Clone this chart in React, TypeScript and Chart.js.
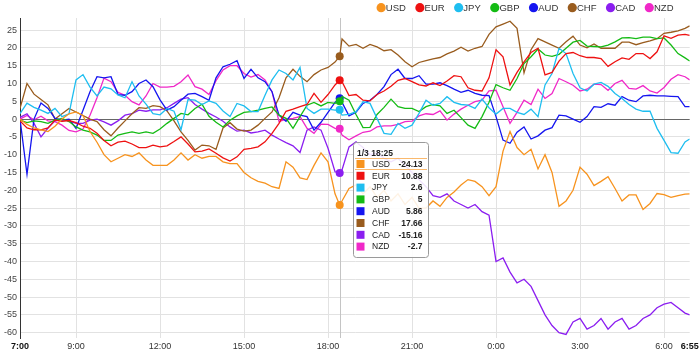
import React, { useEffect, useRef } from "react";
import { Chart, registerables } from "chart.js";

Chart.register(...registerables);

const FONT = "'Liberation Sans', Arial, Helvetica, sans-serif";

const CURRENCIES = ["USD", "EUR", "JPY", "GBP", "AUD", "CHF", "CAD", "NZD"];
const COLORS = ["#F7931E", "#EE1111", "#1EBEF0", "#14BB14", "#1515F0", "#995C1E", "#8B1EF0", "#F028C8"];

const TIMES = [
  "7:00", "7:15", "7:30", "7:45", "8:00", "8:15", "8:30", "8:45",
  "9:00", "9:15", "9:30", "9:45", "10:00", "10:15", "10:30", "10:45",
  "11:00", "11:15", "11:30", "11:45", "12:00", "12:15", "12:30", "12:45",
  "13:00", "13:15", "13:30", "13:45", "14:00", "14:15", "14:30", "14:45",
  "15:00", "15:15", "15:30", "15:45", "16:00", "16:15", "16:30", "16:45",
  "17:00", "17:15", "17:30", "17:45", "18:00", "18:15", "18:25", "18:30", "18:45",
  "19:00", "19:15", "19:30", "19:45", "20:00", "20:15", "20:30", "20:45",
  "21:00", "21:15", "21:30", "21:45", "22:00", "22:15", "22:30", "22:45",
  "23:00", "23:15", "23:30", "23:45", "0:00", "0:15", "0:30", "0:45",
  "1:00", "1:15", "1:30", "1:45", "2:00", "2:15", "2:30", "2:45",
  "3:00", "3:15", "3:30", "3:45", "4:00", "4:15", "4:30", "4:45",
  "5:00", "5:15", "5:30", "5:45", "6:00", "6:15", "6:30", "6:45", "6:55",
];

const USD = [
  0, -1.5, -2.5, -3, -3.5, -2, 0, 1.5,
  2, 1, -3.5, -6.5, -10, -12, -11, -10,
  -10.5, -9.5, -11.5, -13, -13, -13, -11.5, -9.5,
  -11.5, -10, -11, -10.5, -10.5, -12, -12.5, -12.5,
  -15, -16.5, -17.5, -18, -19, -19.5, -12, -13.5,
  -16.5, -17, -13, -9.5, -12, -21, -24.13, -23, -19.5,
  -18.5, -21, -19, -22, -20, -23, -21, -24,
  -22, -25, -25, -23, -24.5, -22, -20.5, -18.5,
  -17, -17.5, -19, -21.5, -19, -9, -3.5, -8,
  -10, -8.5, -14, -10, -15, -24.5, -23, -20,
  -13.5, -15.5, -18.7, -17.5, -16.2, -19.5, -23, -21.3,
  -21.3, -25.4, -23.7, -20.9, -21.2, -22, -21.5, -21.1, -21,
];
const EUR = [
  -0.5, -2.5, -3, -3, -2.5, -0.3, -0.6, -0.4,
  -1, -2, -2.6, -4, -6, -7.5, -6.5, -6.2,
  -7, -8, -8, -7.3, -7.8, -7.5, -6.3, -5,
  -7, -9.2, -9, -8.4, -9.6, -10.9, -11.8, -10.6,
  -8.5, -8.2, -7.8, -6.4, -4, -1.2, 2.2, 2.8,
  3.5, 4.1, 7.2, 4.7, 6.9, 9.6, 10.88, 10.5, 6.6,
  6.9, 5.3, 5.1, 6.9, 7.9, 9.2, 10.9, 11.4,
  10.5, 9.6, 9.3, 10.2, 9.4, 10.7, 12.2, 11.9,
  8.8, 8.1, 7.9, 11.6, 19.5, 17.5, 9.6, 13.1,
  16.1, 18.7, 19.9, 12.4, 13.1, 16.3, 18.4, 18.7,
  17.8, 17.3, 17.3, 17, 14.8, 16.1, 17.2, 16.8,
  18.4, 18.4, 17, 18.9, 23.4, 22.7, 23.6, 23.8, 23.5,
];
const JPY = [
  1.5, 4.5, 3.3, 2.5, 1.6, 3, 0.7, 1.5,
  11, 12.5, 9, 6.5, 9, 8.5, 6.8, 6,
  10.5, 6.5, 4.2, 1.5, 1.2, 3, 2.2, -3,
  5.5, 5.3, 4.1, 5.1, 4.4, 2.3, 0.7, 4.4,
  3.7, 2.1, 2.1, 6.7, 11, 13.8, 12.8, 11,
  14.5, 3, 1.6, 2.8, 2.8, 2.5, 2.6, 1.1, 1.3,
  2.1, 4.9, 4.4, 0.2, -4, -4.3, -1.2, -2.6,
  -1.7, 1.6, 5.3, 3.9, 4.4, 6.3, 4.7, 4.1,
  3.9, 3, 5.6, 3.2, 1.4, 3, 3, 1.9,
  1.3, 2.8, 0.7, 9.6, 12.8, 19.9, 18.4, 12.8,
  8.8, 7.9, 9.8, 10.3, 9.2, 7.2, 5.8, 4.1,
  2.8, 2.2, 2.2, -2.6, -6, -9.4, -9.6, -6.4, -5.6,
];
const GBP = [
  -0.3, -1, -0.5, -0.7, -1.2, -0.3, 0.2, -0.7,
  -2.2, -3.1, -3.6, -4.5, -6, -6, -4.5, -4,
  -3.6, -4, -3.6, -4, -2.8, -1.2, 0.2, 1.6,
  1.2, 3, 4.2, 0.8, -0.9, -2.2, -0.3, 0.9,
  1.9, 2.1, 2.5, 3, 3.4, 1.1, 0.2, -2.6,
  0.7, 3.9, 4.7, 3.7, 4.7, 4.4, 5, 6.4, 5.3,
  1.3, -2.4, -2.3, 1.3, 3.3, 5.6, 3.5, 3,
  3, 2.1, 3.5, 4.1, 3.7, 1.6, 2.5, 0.4,
  -1.7, -2.6, 0.7, 4.7, 9.7, 8.8, 8.1, 11.4,
  15.6, 17.5, 19.7, 18, 17.6, 18.2, 19.9, 21.6,
  22.1, 20.5, 20.4, 20.3, 20.8, 21.7, 22.8, 22.9,
  22.6, 23, 23, 22.6, 22.8, 20.8, 18.4, 17.2, 16.3,
];
const AUD = [
  0, -15.5, 0, 4.5, 3, 0.2, -0.3, 0,
  -2.6, 2.5, 7.7, 11.9, 11.6, 11.9, 6.9, 6.7,
  7.7, 10, 11, 9.1, 5.4, 2.5, 3.5, 5.3,
  7, 7.2, 6.3, 5.3, 11.6, 14.7, 15.4, 16.4,
  11.4, 14, 11.6, 10.5, 7.7, 1.1, -0.6, 1.9,
  1.1, 0.7, -3.1, -0.9, 1.9, 4.7, 5.86, 4.7, 0.9,
  1.9, 4.4, 5.3, 6.9, 9.1, 12.5, 14, 11.4,
  11.4, 12.2, 9.8, 9.8, 10.2, 9.4, 8.4, 7.5,
  8.1, 7.2, 6.7, 6.6, 0.7, -5.9, -6.8, -3.7,
  -2.2, -5.6, -4.7, -3.1, -2.4, 1.1, 0.9, 0,
  -0.9, 0.7, 3.5, 3.3, 4.3, 3.9, 6.3, 5.3,
  4.9, 6.5, 6.7, 6.5, 6.5, 6.4, 6.3, 3.5, 3.5,
];
const CHF = [
  3, 10, 7, 5.5, 4, 0, 1.5, 3,
  2, 1, 0, -0.7, -3, -4.7, -2.5, -0.5,
  1.5, 3.2, 3, 3.8, 3.5, 2.3, -0.5, -3.6,
  -6, -8.7, -7.3, -7.5, -8.5, -2.5, -1, -2.8,
  -3.4, -3.1, -1.7, 0.2, 2, 6, 11.6, 14,
  12, 10.5, 12.5, 13.8, 14.5, 16, 17.66, 22.5, 20.5,
  21, 19.9, 21, 20.3, 19.2, 19.5, 18, 16.1,
  14.7, 15.9, 16.4, 16.9, 17.3, 18.3, 19.1, 20.2,
  19.1, 19.9, 20.4, 23.8, 25.9, 26.7, 27.5, 25.5,
  13, 19.5, 22.6, 21.7, 20.8, 19.9, 21.7, 23.3,
  20.8, 20, 21.1, 19.9, 19.9, 19.9, 21.6, 21.6,
  20.9, 21.5, 22, 22.6, 24.1, 24.4, 24.8, 25.5, 26.2,
];
const CAD = [
  0.5, 1.5, -1.2, -5, -2.5, -0.5, 0, -0.5,
  -1.2, -1.2, -0.3, 0, -0.8, -1.7, -0.5, 1.1,
  1.5, 2.5, 2.2, 2.6, 2.6, 3.2, 4.4, 5.6,
  6, 4.1, 2.8, 1.6, 0.6, -0.6, -2.2, -3.4,
  -3.1, -3.9, -3.6, -3.1, -4.5, -5.6, -6.6, -7.5,
  -9.4, -3.1, -2.2, -3.1, -8.2, -14.8, -15.16, -14.3, -7.8,
  -6.4, -8, -10, -9.5, -11, -12, -11, -13,
  -15, -17, -19, -21.5, -22, -21, -23, -24,
  -25, -24, -26, -27, -40, -39, -43, -46,
  -45, -47, -51, -55, -58, -60, -60.5, -57,
  -56, -59, -58, -56, -59, -57, -56, -59,
  -58, -56, -55, -53, -52, -51.5, -53, -54.5, -55,
];
const NZD = [
  0, 1, -0.2, 0.8, -0.5, -0.7, -1.7, -3.2,
  -3.6, -2.8, 1.1, 6, 11.5, 10.5, 7.5, 6.7,
  4.9, 4, 6.5, 10, 9, 9, 9.2, 10.5,
  12.4, 9.1, 8.4, 6.9, 10.8, 13.8, 15, 15,
  12.8, 11.8, 12.5, 11, 7.7, -0.7, 0, 0.2,
  0.7, -2.6, -4, -1.4, -1.5, -2.6, -2.7, -4.5, -5.8,
  -4.7, -3.7, -3.4, -2.2, -1.9, -1.9, -1.5, -0.7,
  -0.6, 0.9, 1.5, 1.3, 2.3, -0.3, 1.4, 2.8,
  3.9, 4.9, 5.3, 7.9, 8.1, 3.5, -1.2, 1.9,
  5.3, 4.1, 8.4, 5.8, 7.2, 11.4, 10.5, 9.5,
  7.9, 8.4, 9.8, 9.7, 8.1, 10, 10.9, 8.6,
  8.4, 9.4, 7.9, 7.3, 8.9, 11.2, 12.5, 11.9, 11,
];

const SERIES = [USD, EUR, JPY, GBP, AUD, CHF, CAD, NZD];

const X_TICKS = ["7:00", "9:00", "12:00", "15:00", "18:00", "21:00", "0:00", "3:00", "6:00", "6:55"];
const Y_TICKS = [25, 20, 15, 10, 5, 0, -5, -10, -15, -20, -25, -30, -35, -40, -45, -50, -55, -60];
const Y_MIN = -61.5;
const Y_MAX = 28.4;
const START_TIME = "7:00";
const HOVER_DATE = "1/3";
const HOVER_TIME = "18:25";
const HIGHLIGHT = "USD";

function toMinutes(t: string): number {
  const [h, m] = t.split(":").map(Number);
  const [h0, m0] = START_TIME.split(":").map(Number);
  return (((h * 60 + m) - (h0 * 60 + m0)) % 1440 + 1440) % 1440;
}

const HOVER_INDEX = TIMES.indexOf(HOVER_TIME);

const legendPlugin = {
  id: "fxLegend",
  afterDraw(chart: any) {
    const ctx = chart.ctx as CanvasRenderingContext2D;
    ctx.save();
    ctx.font = `9.5px ${FONT}`;
    ctx.textBaseline = "middle";
    ctx.textAlign = "left";
    const r = 4.6;
    const textGap = 4.7;
    const itemGap = 14;
    const right = 673.5;
    const cy = 7.7;
    const widths = chart.data.datasets.map((d: any) => ctx.measureText(d.label).width);
    const total = widths.reduce((a: number, w: number) => a + w, 0) + widths.length * textGap + (widths.length - 1) * itemGap;
    let x = right - total;
    chart.data.datasets.forEach((d: any, k: number) => {
      ctx.beginPath();
      ctx.arc(x, cy, r, 0, Math.PI * 2);
      ctx.fillStyle = d.borderColor;
      ctx.fill();
      ctx.fillStyle = "#333";
      ctx.fillText(d.label, x + textGap, cy + 0.5);
      x += textGap + widths[k] + itemGap;
    });
    ctx.restore();
  },
};

const crosshairPlugin = {
  id: "fxCrosshair",
  beforeDatasetsDraw(chart: any) {
    const { ctx, chartArea, scales } = chart;
    const x = Math.round(scales.x.getPixelForValue(toMinutes(HOVER_TIME))) + 0.5;
    ctx.save();
    ctx.strokeStyle = "#c4c4c4";
    ctx.lineWidth = 1;
    ctx.beginPath();
    ctx.moveTo(x, chartArea.top);
    ctx.lineTo(x, chartArea.bottom);
    ctx.stroke();
    ctx.restore();
  },
};

function roundRect(ctx: CanvasRenderingContext2D, x: number, y: number, w: number, h: number, r: number) {
  ctx.beginPath();
  ctx.moveTo(x + r, y);
  ctx.lineTo(x + w - r, y);
  ctx.arcTo(x + w, y, x + w, y + r, r);
  ctx.lineTo(x + w, y + h - r);
  ctx.arcTo(x + w, y + h, x + w - r, y + h, r);
  ctx.lineTo(x + r, y + h);
  ctx.arcTo(x, y + h, x, y + h - r, r);
  ctx.lineTo(x, y + r);
  ctx.arcTo(x, y, x + r, y, r);
  ctx.closePath();
}

const tooltipPlugin = {
  id: "fxTooltip",
  afterDraw(chart: any) {
    const ctx = chart.ctx as CanvasRenderingContext2D;
    const bx = 353.5, by = 142.5, bw = 75, bh = 115;
    ctx.save();
    roundRect(ctx, bx, by, bw, bh, 3);
    ctx.fillStyle = "rgba(255,255,255,0.88)";
    ctx.fill();
    ctx.strokeStyle = "#9a9a9a";
    ctx.lineWidth = 1;
    ctx.stroke();

    ctx.textBaseline = "middle";
    ctx.fillStyle = "#222";
    ctx.font = `bold 8.5px ${FONT}`;
    ctx.textAlign = "left";
    ctx.fillText(`${HOVER_DATE} ${HOVER_TIME}`, bx + 3.5, by + 11.5);

    const rowH = 11.8;
    const row0 = by + 21.5;
    chart.data.datasets.forEach((d: any, k: number) => {
      const cy = row0 + k * rowH;
      if (d.label === HIGHLIGHT) {
        ctx.strokeStyle = "rgba(247,147,30,0.65)";
        ctx.lineWidth = 1;
        ctx.beginPath();
        ctx.moveTo(bx + 1.5, Math.round(cy - 5.8) + 0.5);
        ctx.lineTo(bx + bw - 1.5, Math.round(cy - 5.8) + 0.5);
        ctx.moveTo(bx + 1.5, Math.round(cy + 5.3) + 0.5);
        ctx.lineTo(bx + bw - 1.5, Math.round(cy + 5.3) + 0.5);
        ctx.stroke();
      }
      ctx.fillStyle = d.borderColor;
      ctx.fillRect(bx + 3, cy - 4, 8, 8);
      ctx.fillStyle = "#222";
      ctx.font = `8.5px ${FONT}`;
      ctx.textAlign = "left";
      ctx.fillText(d.label, bx + 18.5, cy + 0.5);
      ctx.font = `bold 8.5px ${FONT}`;
      ctx.textAlign = "right";
      const v = d.data[HOVER_INDEX].y;
      ctx.fillText(String(v), bx + bw - 6, cy + 0.5);
    });
    ctx.restore();
  },
};

export default function App() {
  const canvasRef = useRef<HTMLCanvasElement | null>(null);

  useEffect(() => {
    document.body.style.margin = "0";
    const canvas = canvasRef.current;
    if (!canvas) return;
    const xs = TIMES.map(toMinutes);
    const chart = new Chart(canvas, {
      type: "line",
      data: {
        datasets: SERIES.map((vals, k) => ({
          label: CURRENCIES[k],
          data: vals.map((v, i) => ({ x: xs[i], y: v })),
          borderColor: COLORS[k],
          backgroundColor: COLORS[k],
          pointBackgroundColor: COLORS[k],
          borderWidth: 1.3,
          tension: 0,
          pointRadius: (c: any) => (c.dataIndex === HOVER_INDEX ? 4 : 0),
          pointBorderWidth: 0,
          pointHoverRadius: 0,
          fill: false,
        })),
      },
      options: {
        responsive: false,
        animation: false,
        events: [],
        layout: { padding: { top: 18, right: 10.3, left: 0, bottom: 0 } },
        plugins: {
          legend: { display: false },
          tooltip: { enabled: false },
        },
        scales: {
          x: {
            type: "linear",
            min: 0,
            max: toMinutes(X_TICKS[X_TICKS.length - 1]),
            afterBuildTicks: (s: any) => {
              s.ticks = X_TICKS.map((t) => ({ value: toMinutes(t) }));
            },
            afterFit: (s: any) => {
              s.height = 18;
              s.paddingLeft = 0;
              s.paddingRight = 0;
            },
            ticks: {
              autoSkip: false,
              maxRotation: 0,
              padding: 3,
              color: (c: any) => (c.index === 0 || c.index === X_TICKS.length - 1 ? "#111" : "#333"),
              font: (c: any) => ({
                family: FONT,
                size: 9,
                weight: c.index === 0 || c.index === X_TICKS.length - 1 ? "bold" : "normal",
              }),
              callback: (_v: any, i: number) => X_TICKS[i],
            },
            grid: {
              drawTicks: false,
              color: (c: any) => (c.index === X_TICKS.length - 1 ? "rgba(0,0,0,0)" : "#e2e2e2"),
            },
            border: { display: false },
          },
          y: {
            min: Y_MIN,
            max: Y_MAX,
            afterBuildTicks: (s: any) => {
              s.ticks = Y_TICKS.map((v) => ({ value: v }));
            },
            afterFit: (s: any) => {
              s.width = 20;
              s.paddingTop = 0;
              s.paddingBottom = 0;
            },
            ticks: {
              padding: 3,
              color: "#444",
              font: { family: FONT, size: 9 },
            },
            grid: {
              drawTicks: false,
              color: (c: any) => (c.tick && c.tick.value === 0 ? "#666" : "#e2e2e2"),
            },
            border: { display: true, color: "#333", width: 1 },
          },
        },
      },
      plugins: [crosshairPlugin, legendPlugin, tooltipPlugin],
    } as any);
    return () => chart.destroy();
  }, []);

  return (
    <div style={{ width: 700, height: 356 }}>
      <canvas ref={canvasRef} width={700} height={356} style={{ display: "block" }} />
    </div>
  );
}
